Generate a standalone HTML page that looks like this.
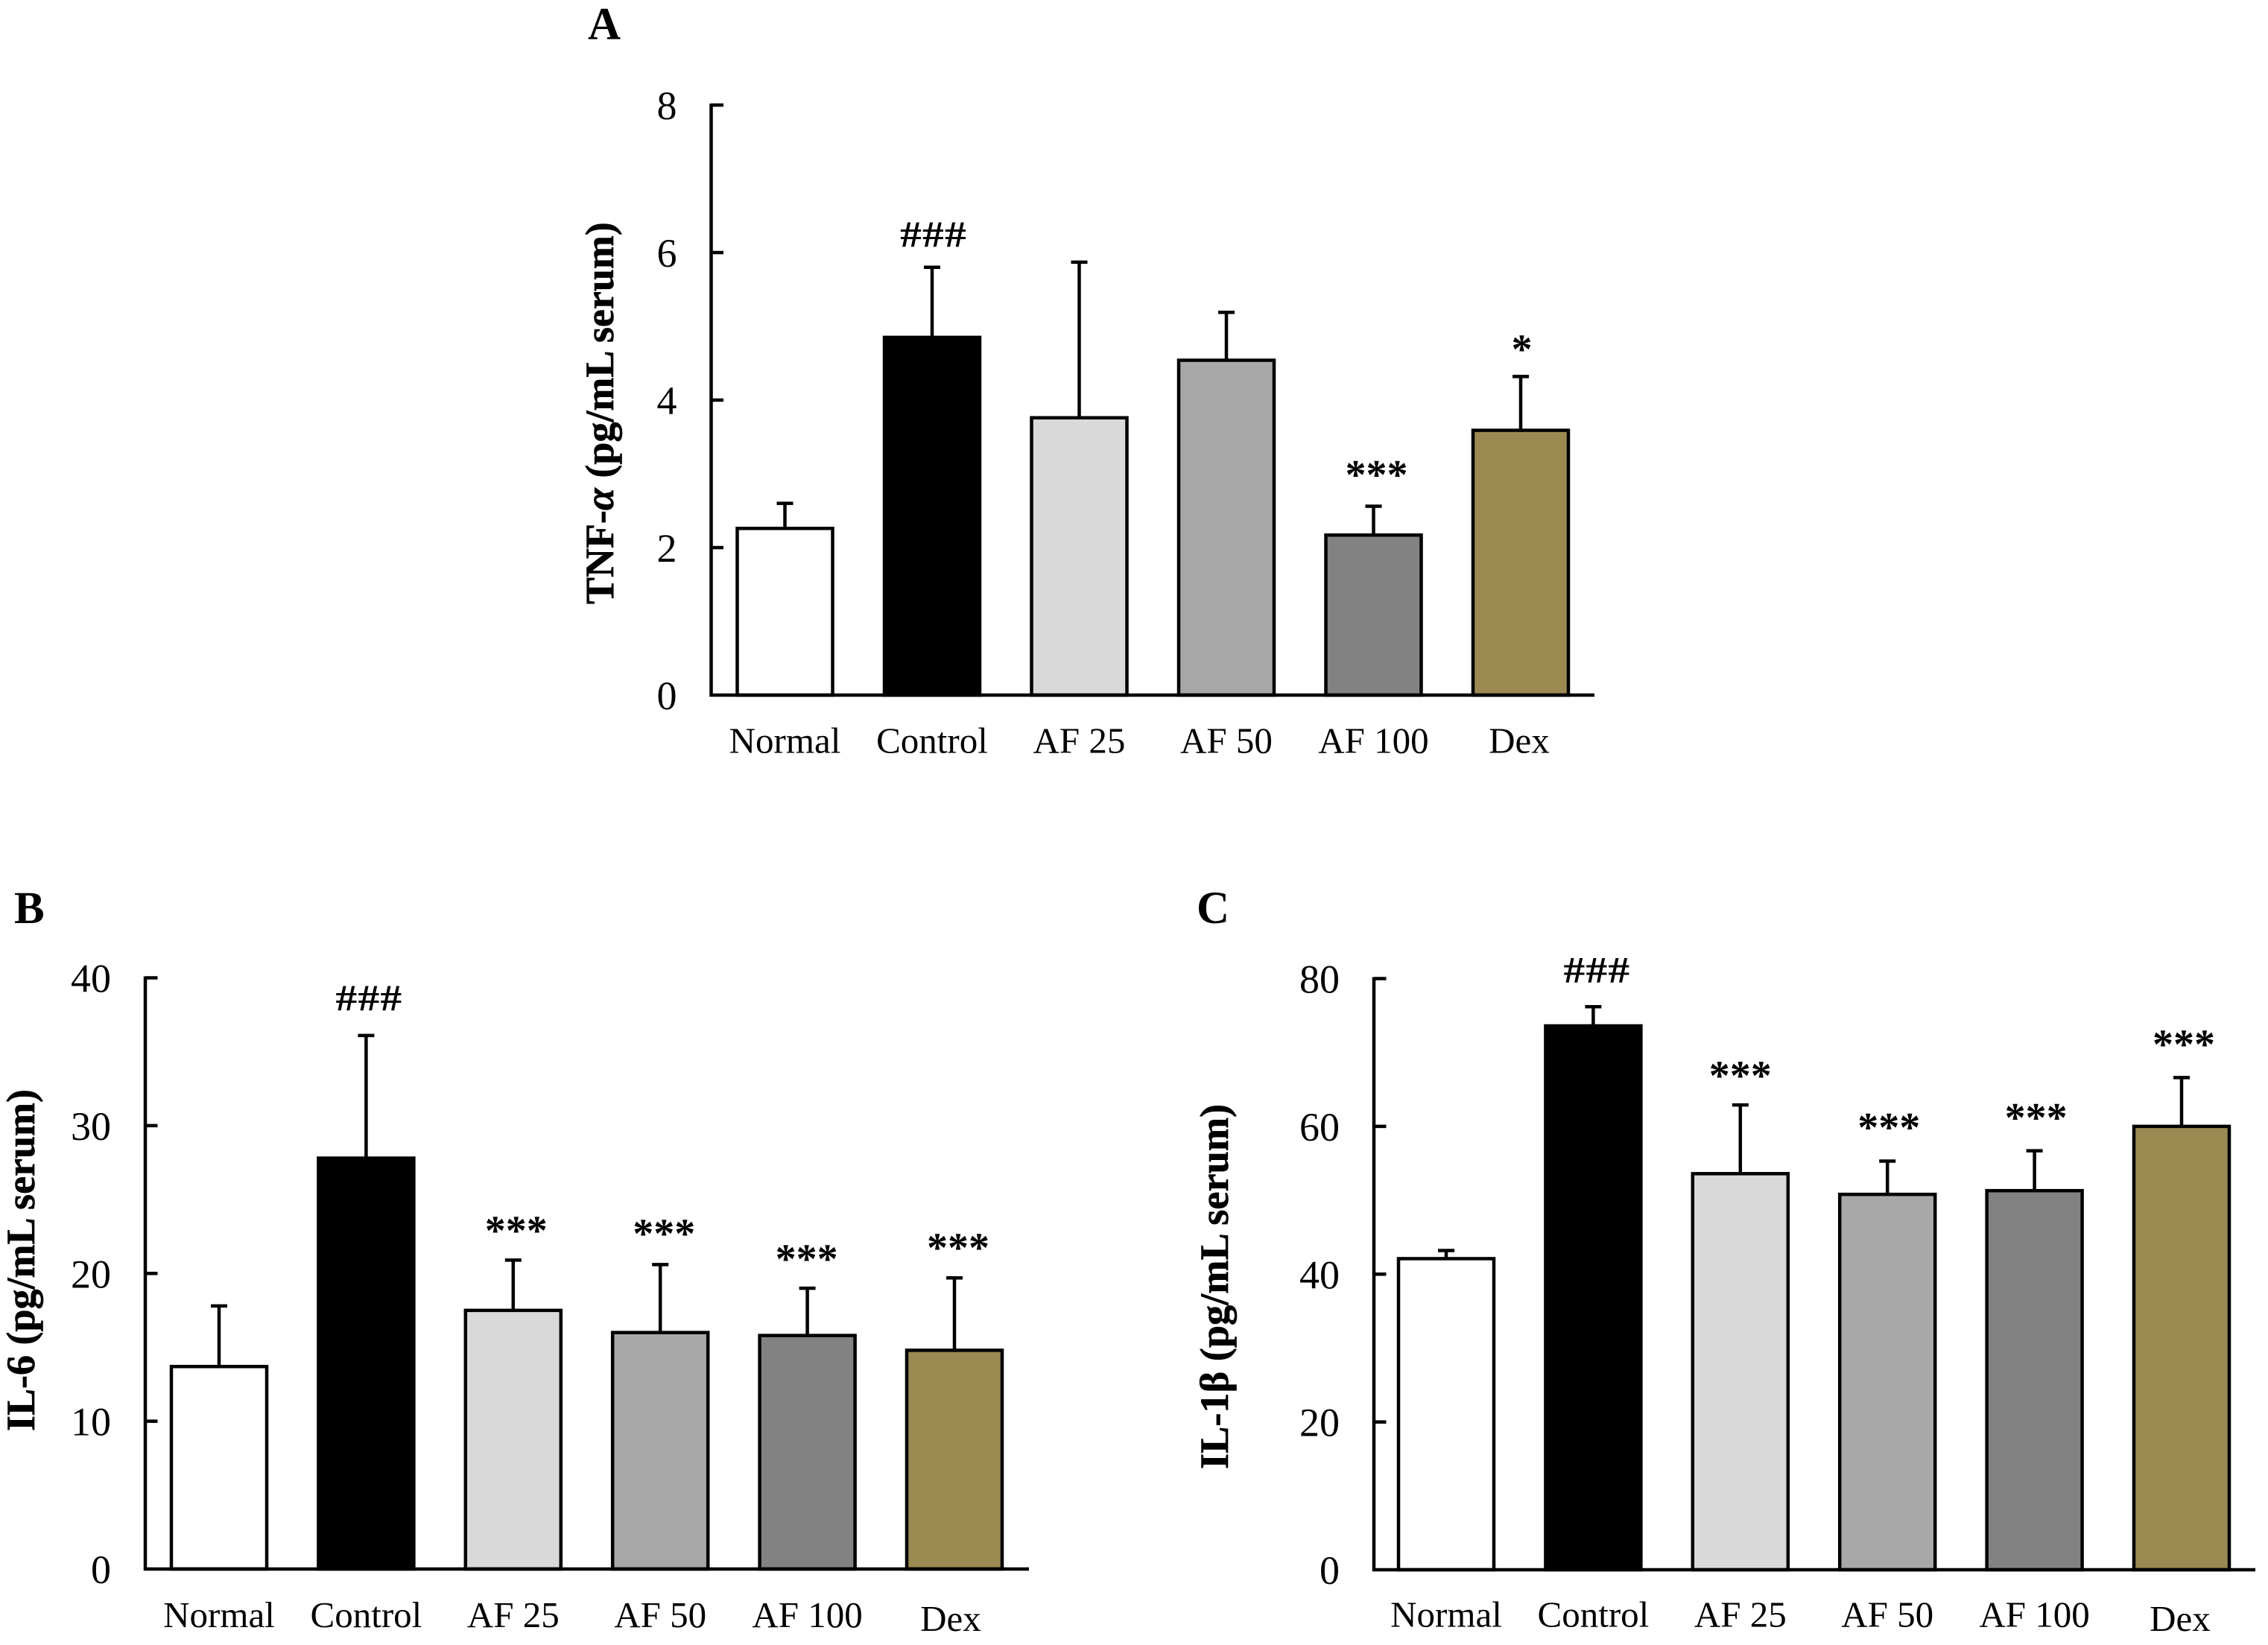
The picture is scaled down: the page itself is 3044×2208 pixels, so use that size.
<!DOCTYPE html>
<html lang="en">
<head>
<meta charset="utf-8">
<title>Serum cytokine levels: TNF-α, IL-6 and IL-1β</title>
<style>
  html, body { margin: 0; padding: 0; background: #ffffff; }
  svg { display: block; }
  text { font-family: "Liberation Serif", serif; fill: #000000; }
  .tick-label { font-size: 54px; text-anchor: end; }
  .cat-label { font-size: 49px; text-anchor: middle; }
  .axis-title { font-size: 54px; font-weight: bold; stroke: #000000; stroke-width: 0.6px; }
  .panel-letter { font-size: 61px; font-weight: bold; }
  .mark-hash { font-size: 50px; font-weight: bold; text-anchor: middle; letter-spacing: 1px; }
  .mark-star { font-size: 56px; font-weight: bold; text-anchor: middle; }
</style>
</head>
<body>
<svg id="figure" xmlns="http://www.w3.org/2000/svg" width="3044" height="2208" viewBox="0 0 3044 2208">
  <rect x="0" y="0" width="3044" height="2208" fill="#ffffff"/>

  <g id="panel-a">
    <text class="panel-letter" x="789" y="52.5">A</text>
    <text class="axis-title" transform="translate(823,811) rotate(-90)">TNF-<tspan font-style="italic">α</tspan> (pg/mL serum)</text>
  </g>

  <g id="panel-b">
    <text class="panel-letter" x="19" y="1239">B</text>
    <text class="axis-title" transform="translate(46,1921) rotate(-90)">IL-6 (pg/mL serum)</text>
  </g>

  <g id="panel-c">
    <text class="panel-letter" x="1606" y="1239">C</text>
    <text class="axis-title" style="font-size:54.3px" transform="translate(1648,1972) rotate(-90)">IL-1β (pg/mL serum)</text>
  </g>
</svg>

<script>
// ---- Chart data -------------------------------------------------------
const categories = ['Normal', 'Control', 'AF 25', 'AF 50', 'AF 100', 'Dex'];

const aTicks = [0, 2, 4, 6, 8];
const aMeans = [2.26, 4.85, 3.76, 4.54, 2.17, 3.59];
const aErrorTops = [2.60, 5.80, 5.87, 5.19, 2.56, 4.32];
const aMarks = ['', '###', '', '', '***', '*'];
const aMarkLevels = [0, 6.08, 0, 0, 2.95, 4.65];

const bTicks = [0, 10, 20, 30, 40];
const bMeans = [13.7, 27.8, 17.5, 16.0, 15.8, 14.8];
const bErrorTops = [17.8, 36.1, 20.9, 20.6, 19.0, 19.7];
const bMarks = ['', '###', '***', '***', '***', '***'];
const bMarkLevels = [0, 37.8, 22.7, 22.5, 20.8, 21.55];

const cTicks = [0, 20, 40, 60, 80];
const cMeans = [42.1, 73.6, 53.6, 50.8, 51.3, 60.0];
const cErrorTops = [43.2, 76.2, 62.9, 55.3, 56.7, 66.6];
const cMarks = ['', '###', '***', '***', '***', '***'];
const cMarkLevels = [0, 79.5, 66.5, 59.5, 60.8, 70.7];

// ---- Rendering --------------------------------------------------------
const SVG_NS = 'http://www.w3.org/2000/svg';
const barFills = ['#ffffff', '#000000', '#d9d9d9', '#a8a8a8', '#828282', '#9a8a52'];
const LINE_WIDTH = 4.5;

function make(tag, parent, attrs, text) {
  const node = document.createElementNS(SVG_NS, tag);
  for (const key in attrs) node.setAttribute(key, attrs[key]);
  if (text !== undefined) node.textContent = text;
  parent.appendChild(node);
  return node;
}

function drawPanel(cfg) {
  const parent = document.getElementById(cfg.id);
  const domainMax = cfg.ticks[cfg.ticks.length - 1];
  const yScale = v => cfg.baseY - (v / domainMax) * (cfg.baseY - cfg.topY);
  const xScale = i => cfg.firstCenter + i * cfg.pitch;
  const barWidth = 128;
  const capHalf = 11;

  cfg.means.forEach((mean, i) => {
    const cx = xScale(i);

    const stem = make('line', parent, { x1: cx, x2: cx, y1: yScale(mean), y2: yScale(cfg.errorTops[i]), stroke: '#000', 'stroke-width': LINE_WIDTH });
    
    

    const cap = make('line', parent, { x1: cx - capHalf, x2: cx + capHalf, y1: yScale(cfg.errorTops[i]), y2: yScale(cfg.errorTops[i]), stroke: '#000', 'stroke-width': LINE_WIDTH });
    
    

    const bar = make('rect', parent, { x: cx - barWidth / 2, y: yScale(mean), width: barWidth, height: yScale(0) - yScale(mean), fill: barFills[i], stroke: '#000', 'stroke-width': LINE_WIDTH });
    
    

    const isDex = categories[i] === 'Dex';
    const catLabel = make('text', parent, { class: 'cat-label', x: cx + (isDex ? cfg.dexShiftX : 0), y: cfg.catBaseline + (isDex ? cfg.dexShiftY : 0) }, categories[i]);
    
    

    const symbol = cfg.marks[i];
    if (symbol) {
      const mx = cx + cfg.markNudge[i];
      const my = yScale(cfg.markLevels[i]);
      let mark;
      if (symbol[0] === '#') {
        mark = make('text', parent, { class: 'mark-hash', transform: 'translate(' + mx + ',' + my + ') scale(1.15,1)' }, symbol);
      } else {
        mark = make('text', parent, { class: 'mark-star', x: mx, y: my + 15 }, symbol);
      }
      
      
    }
  });

  const yAxis = make('line', parent, { x1: cfg.axisX, x2: cfg.axisX, y1: yScale(domainMax) - 2, y2: yScale(0) + 2, stroke: '#000', 'stroke-width': LINE_WIDTH });
  
  

  const xAxis = make('line', parent, { x1: cfg.axisX - 2, x2: cfg.axisEnd, y1: yScale(0), y2: yScale(0), stroke: '#000', 'stroke-width': LINE_WIDTH });
  
  

  cfg.ticks.forEach(t => {
    if (t !== 0) {
      const tick = make('line', parent, { x1: cfg.axisX, x2: cfg.axisX + 16.5, y1: yScale(t), y2: yScale(t), stroke: '#000', 'stroke-width': LINE_WIDTH });
      
      
    }
    const tickLabel = make('text', parent, { class: 'tick-label', x: cfg.axisX - 46, y: yScale(t) + 19 }, String(t));
    
    
  });
}

drawPanel({
  id: 'panel-a', ticks: aTicks, means: aMeans, errorTops: aErrorTops, marks: aMarks, markLevels: aMarkLevels,
  markNudge: [0, 2, 0, 0, 4, 1.5],
  baseY: 933, topY: 141, axisX: 954.5, axisEnd: 2140, firstCenter: 1053.5, pitch: 197.5,
  catBaseline: 1010.7, dexShiftX: -2, dexShiftY: 0
});

drawPanel({
  id: 'panel-b', ticks: bTicks, means: bMeans, errorTops: bErrorTops, marks: bMarks, markLevels: bMarkLevels,
  markNudge: [0, 4, 4, 5, -1, 5],
  baseY: 2106, topY: 1312.5, axisX: 195, axisEnd: 1381, firstCenter: 294, pitch: 197.4,
  catBaseline: 2184, dexShiftX: -5, dexShiftY: 5
});

drawPanel({
  id: 'panel-c', ticks: cTicks, means: cMeans, errorTops: cErrorTops, marks: cMarks, markLevels: cMarkLevels,
  markNudge: [0, 5, 0, 2, 2, 3],
  baseY: 2107, topY: 1313.5, axisX: 1844, axisEnd: 3027, firstCenter: 1941, pitch: 197.4,
  catBaseline: 2183.5, dexShiftX: -2, dexShiftY: 5.5
});
</script>
</body>
</html>
